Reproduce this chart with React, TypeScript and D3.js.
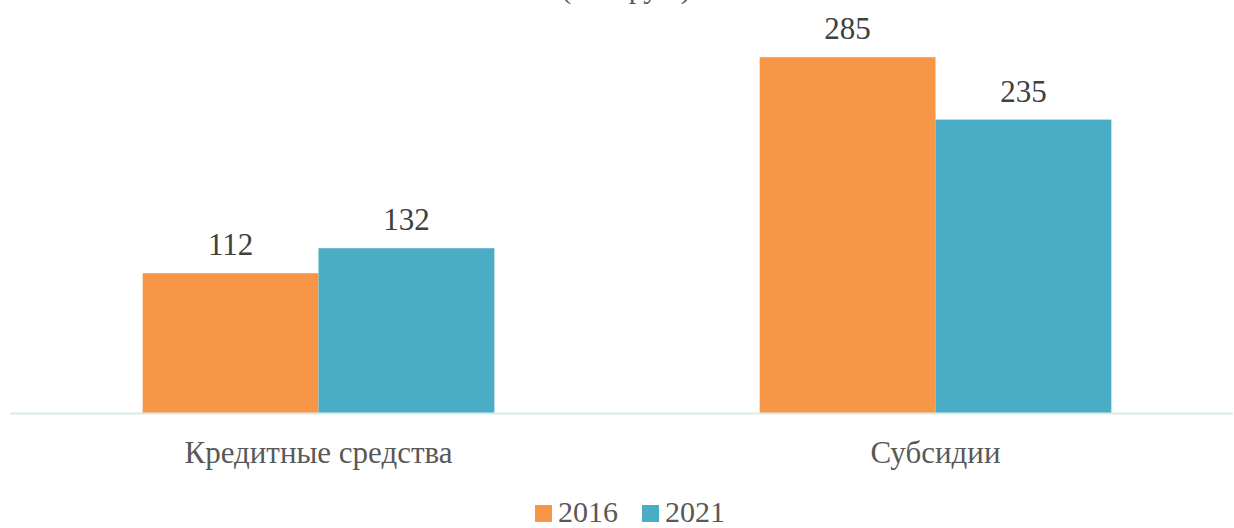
import React from "react";
import * as d3 from "d3";

const categories = ["Кредитные средства", "Субсидии"];
const seriesNames = ["2016", "2021"];
const values2016 = [112, 285];
const values2021 = [132, 235];
const colors = ["#F79646", "#4BACC6"];
const titleText = "(млн руб.)";

const width = 1234;
const height = 528;
const baseY = 413;
const fontStyle = (size: number) => ({
  fontFamily: "'Liberation Serif', Tinos, 'Times New Roman', serif",
  fontSize: `${size}px`,
});

const App = () => {
  const seriesValues = [values2016, values2021];

  // échelles
  const x0 = d3.scaleBand().domain(categories).range([10, 1244]).paddingInner(0.43).paddingOuter(0.215);
  const x1 = d3.scaleBand().domain(seriesNames).range([0, x0.bandwidth()]).padding(0);
  const y = d3.scaleLinear().domain([0, 330]).range([baseY, 1]);

  const legendX = [535, 642];

  return (
    <svg width={width} height={height} style={{ position: "absolute", left: 0, top: 0, background: "#fff" }}>
      {/* titre, coupé en haut comme sur l'original */}
      <text x={626} y={-2} textAnchor="middle" fill="#595959" style={fontStyle(30)}>
        {titleText}
      </text>

      {categories.map((cat, ci) =>
        seriesNames.map((s, si) => {
          const v = seriesValues[si][ci];
          const bx = (x0(cat) as number) + (x1(s) as number);
          return (
            <g key={cat + s}>
              <rect x={bx} y={y(v)} width={x1.bandwidth()} height={baseY - y(v)} fill={colors[si]} />
              <text x={bx + x1.bandwidth() / 2} y={y(v) - 18} textAnchor="middle" fill="#404040" style={fontStyle(31)}>
                {v}
              </text>
            </g>
          );
        })
      )}

      {/* axe x */}
      <line x1={10} x2={1233} y1={baseY + 0.5} y2={baseY + 0.5} stroke="#DCEBE7" strokeWidth={2} />
      {categories.map((cat) => (
        <text
          key={cat}
          x={(x0(cat) as number) + x0.bandwidth() / 2}
          y={463}
          textAnchor="middle"
          fill="#595959"
          style={fontStyle(31)}
        >
          {cat}
        </text>
      ))}

      {/* légende */}
      {seriesNames.map((s, i) => (
        <g key={s}>
          <rect x={legendX[i]} y={505} width={17} height={17} fill={colors[i]} />
          <text x={legendX[i] + 23} y={522} fill="#595959" style={fontStyle(30)}>
            {s}
          </text>
        </g>
      ))}
    </svg>
  );
};

export default App;
